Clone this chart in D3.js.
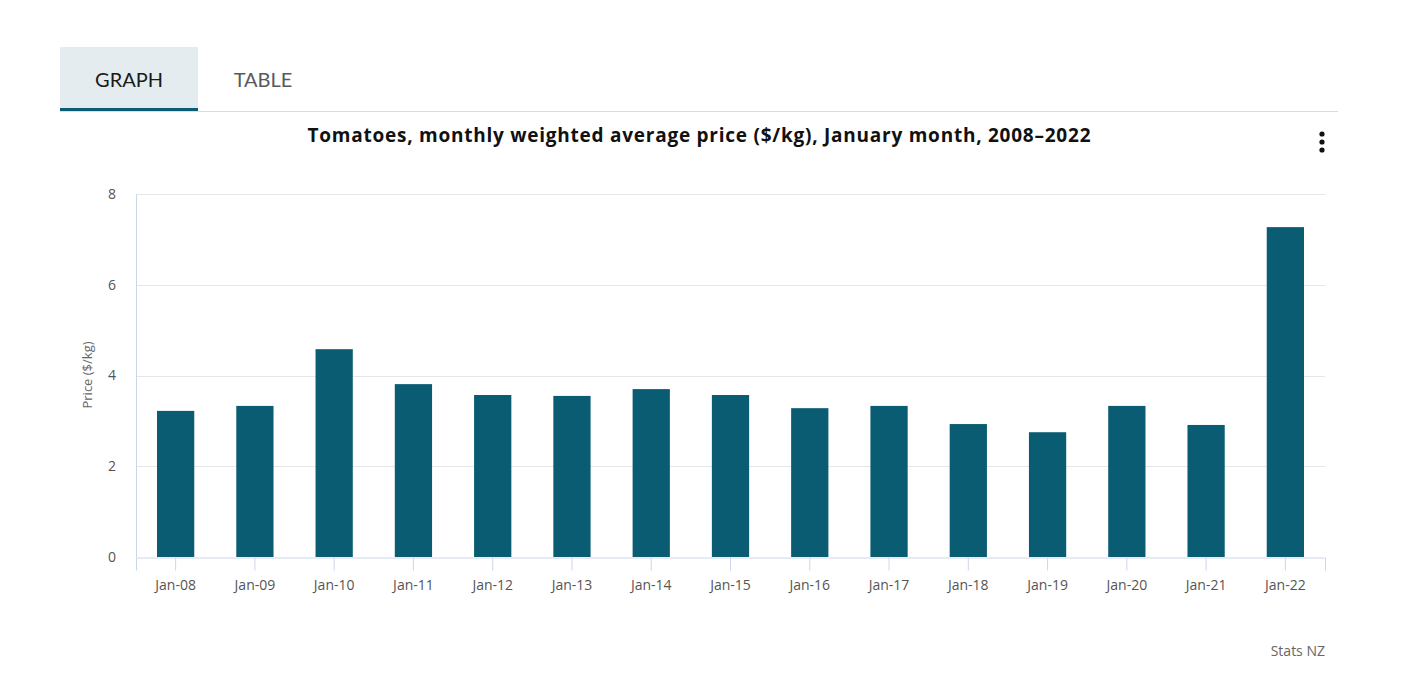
<!DOCTYPE html>
<html>
<head>
<meta charset="utf-8">
<script src="https://cdn.jsdelivr.net/npm/d3@7"></script>
<style>
body{margin:0;background:#fff;font-family:"Open Sans",sans-serif;}
</style>
</head>
<body>
<svg id="chart" width="1413" height="687"></svg>
<script>
const categories = ["Jan-08","Jan-09","Jan-10","Jan-11","Jan-12","Jan-13","Jan-14","Jan-15","Jan-16","Jan-17","Jan-18","Jan-19","Jan-20","Jan-21","Jan-22"];
const prices = [3.22,3.33,4.58,3.81,3.57,3.55,3.70,3.57,3.28,3.33,2.93,2.75,3.33,2.91,7.27];
const yTicks = [0,2,4,6,8];
const titleText = "Tomatoes, monthly weighted average price ($/kg), January month, 2008–2022";
const yLabel = "Price ($/kg)";
const credit = "Stats NZ";

const svg = d3.select("#chart");
const font = "'Open Sans', sans-serif";
const tabFont = "Lato, 'Open Sans', sans-serif";

// Tabs
svg.append("rect").attr("x",60).attr("y",47).attr("width",138).attr("height",63).attr("fill","#e4ecef");
svg.append("line").attr("x1",60).attr("x2",1338).attr("y1",111.5).attr("y2",111.5).attr("stroke","#dcdcdc").attr("stroke-width",1);
svg.append("rect").attr("x",60).attr("y",108).attr("width",138).attr("height",3).attr("fill","#0b5c73");
svg.append("text").attr("x",129).attr("y",87).attr("text-anchor","middle").attr("font-family",tabFont).attr("font-size",20).attr("fill","#1a1a1a").text("GRAPH");
svg.append("text").attr("x",263).attr("y",87).attr("text-anchor","middle").attr("font-family",tabFont).attr("font-size",20).attr("fill","#555a5e").text("TABLE");

// Title
svg.append("text").attr("x",699).attr("y",142).attr("text-anchor","middle").attr("font-family",font).attr("font-size",19).attr("font-weight","bold").attr("fill","#111")
  .attr("textLength",783).attr("lengthAdjust","spacing").text(titleText);

// Menu dots
svg.selectAll("circle.dot").data([134,142,150]).enter().append("circle").attr("class","dot")
  .attr("cx",1322).attr("cy",d=>d).attr("r",2.6).attr("fill","#111");

const plotLeft = 136, plotRight = 1325, plotTop = 194, plotBottom = 557;
const x = d3.scaleBand().domain(categories).range([plotLeft,plotRight]).paddingInner(0.53).paddingOuter(0.265);
const y = d3.scaleLinear().domain([0,8]).range([plotBottom,plotTop]);

// grid
svg.append("g").selectAll("line").data(yTicks.filter(d=>d>0)).enter().append("line")
  .attr("x1",plotLeft).attr("x2",plotRight).attr("y1",d=>Math.round(y(d))+0.5).attr("y2",d=>Math.round(y(d))+0.5)
  .attr("stroke","#e6e6e6").attr("stroke-width",1);

// y axis labels
const yAxis = d3.axisLeft(y).tickValues(yTicks).tickSize(0).tickPadding(20);
const gy = svg.append("g").attr("transform",`translate(${plotLeft},0)`).call(yAxis);
gy.select(".domain").attr("stroke","#ccd6eb");
gy.selectAll("text").attr("font-family",font).attr("font-size",14).attr("fill","#555");

// bars
svg.append("g").selectAll("rect").data(prices).enter().append("rect")
  .attr("x",(d,i)=>x(categories[i])).attr("width",x.bandwidth())
  .attr("y",d=>y(d)).attr("height",d=>plotBottom-y(d)).attr("fill","#0a5c73");

// x axis
const xAxis = d3.axisBottom(x).tickSize(13).tickPadding(10);
const gx = svg.append("g").attr("transform",`translate(0,${plotBottom+0.5})`).call(xAxis);
gx.select(".domain").attr("stroke","#ccd6eb");
gx.selectAll(".tick line").attr("stroke","#ccd6eb");
gx.selectAll("text").attr("font-family",font).attr("font-size",14).attr("fill","#555");

// y label
svg.append("text").attr("transform","translate(92,375) rotate(-90)").attr("text-anchor","middle")
  .attr("font-family",font).attr("font-size",13).attr("fill","#666").text(yLabel);

// credit
svg.append("text").attr("x",1325).attr("y",656).attr("text-anchor","end").attr("font-family",font).attr("font-size",14).attr("fill","#666").text(credit);
</script>
</body>
</html>
